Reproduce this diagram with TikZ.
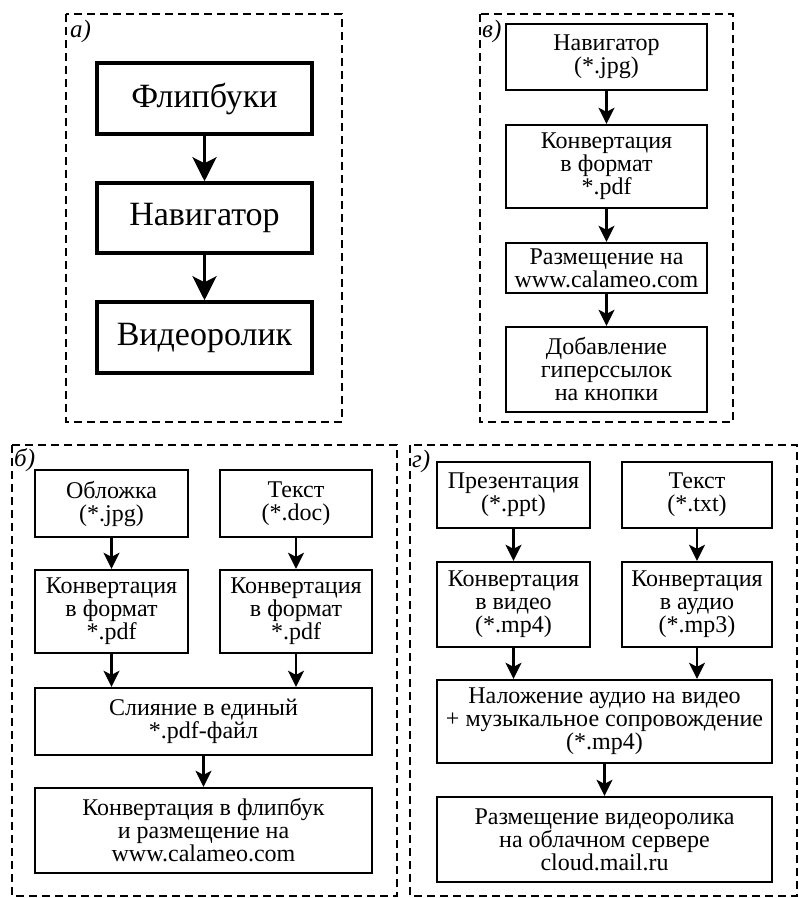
\documentclass[tikz,border=0pt]{standalone}
\usepackage{fontspec}
\setmainfont{Liberation Serif}
\usetikzlibrary{arrows.meta}
\tikzset{
  frame/.style={dashed, dash pattern=on 8pt off 5pt, line width=2.2pt},
  box/.style={draw, line width=2.4pt, align=center, inner sep=0pt,
    font=\fontsize{24}{23}\selectfont},
  bigbox/.style={draw, line width=3.5pt, align=center, inner sep=0pt,
    font=\fontsize{34}{36}\selectfont},
  arr/.style={-{Stealth[length=16pt,width=16pt,inset=4pt]}, line width=2.4pt},
  bigarr/.style={-{Stealth[length=24pt,width=24pt,inset=6pt]}, line width=3.4pt},
  lbl/.style={anchor=north west, inner sep=0pt, font=\fontsize{25}{25}\selectfont\itshape}
}
\begin{document}
\begin{tikzpicture}[x=1pt,y=-1pt]
      \useasboundingbox (0,0) rectangle (799,898);
      % a
      \draw[frame] (66,14) rectangle (342,422);
      \node[lbl] (la) at (70,20) {а)};
      \node[bigbox, minimum width=215pt, minimum height=71pt] (a1) at (204.5,98.5) {Флипбуки};
      \node[bigbox, minimum width=215pt, minimum height=70pt] (a2) at (204.5,218) {Навигатор};
      \node[bigbox, minimum width=215pt, minimum height=71pt] (a3) at (204.5,337.5) {Видеоролик};
      \draw[bigarr] (a1) -- (a2);
      \draw[bigarr] (a2) -- (a3);
      % v
      \draw[frame] (480,14) rectangle (733,422);
      \node[lbl] (lv) at (482,20) {в)};
      \node[box, minimum width=201pt, minimum height=66pt] (v1) at (606.5,57) {Навигатор\\(*.jpg)};
      \node[box, minimum width=201pt, minimum height=83pt] (v2) at (606.5,166.5) {Конвертация\\в формат\\*.pdf};
      \node[box, minimum width=201pt, minimum height=50pt] (v3) at (606.5,268) {Размещение на\\www.calameo.com};
      \node[box, minimum width=201pt, minimum height=85pt] (v4) at (606.5,369.5) {Добавление\\гиперссылок\\на кнопки};
      \draw[arr] (v1) -- (v2);
      \draw[arr] (v2) -- (v3);
      \draw[arr] (v3) -- (v4);
      % b
      \draw[frame] (12,445) rectangle (397,896);
      \node[lbl] (lb) at (14,448) {б)};
      \node[box, minimum width=153pt, minimum height=67pt] (b1) at (111.5,503.5) {Обложка\\(*.jpg)};
      \node[box, minimum width=152pt, minimum height=67pt] (b2) at (296,503.5) {Текст\\(*.doc)};
      \node[box, minimum width=153pt, minimum height=83pt] (b3) at (111.5,611.5) {Конвертация\\в формат\\*.pdf};
      \node[box, minimum width=152pt, minimum height=83pt] (b4) at (296,611.5) {Конвертация\\в формат\\*.pdf};
      \node[box, minimum width=337pt, minimum height=67pt] (b5) at (203.5,721.5) {Слияние в единый\\*.pdf-файл};
      \node[box, minimum width=337pt, minimum height=85pt] (b6) at (203.5,830.5) {Конвертация в флипбук\\и размещение на\\www.calameo.com};
      \draw[arr] (b1) -- (b3);
      \draw[arr] (b2) -- (b4);
      \draw[arr] (b3.south) -- (b3.south |- b5.north);
      \draw[arr] (b4.south) -- (b4.south |- b5.north);
      \draw[arr] (b5) -- (b6);
      % g
      \draw[frame] (410,445) rectangle (797,896);
      \node[lbl] (lg) at (412,450) {г)};
      \node[box, minimum width=153pt, minimum height=66pt] (g1) at (513.5,495) {Презентация\\(*.ppt)};
      \node[box, minimum width=150pt, minimum height=66pt] (g2) at (697,495) {Текст\\(*.txt)};
      \node[box, minimum width=153pt, minimum height=85pt] (g3) at (513.5,604.5) {Конвертация\\в видео\\(*.mp4)};
      \node[box, minimum width=150pt, minimum height=85pt] (g4) at (697,604.5) {Конвертация\\в аудио\\(*.mp3)};
      \node[box, minimum width=335pt, minimum height=83pt] (g5) at (604.5,721.5) {Наложение аудио на видео\\+ музыкальное сопровождение\\(*.mp4)};
      \node[box, minimum width=335pt, minimum height=85pt] (g6) at (604.5,839.5) {Размещение видеоролика\\на облачном сервере\\cloud.mail.ru};
      \draw[arr] (g1) -- (g3);
      \draw[arr] (g2) -- (g4);
      \draw[arr] (g3.south) -- (g3.south |- g5.north);
      \draw[arr] (g4.south) -- (g4.south |- g5.north);
      \draw[arr] (g5) -- (g6);
\end{tikzpicture}
\end{document}
